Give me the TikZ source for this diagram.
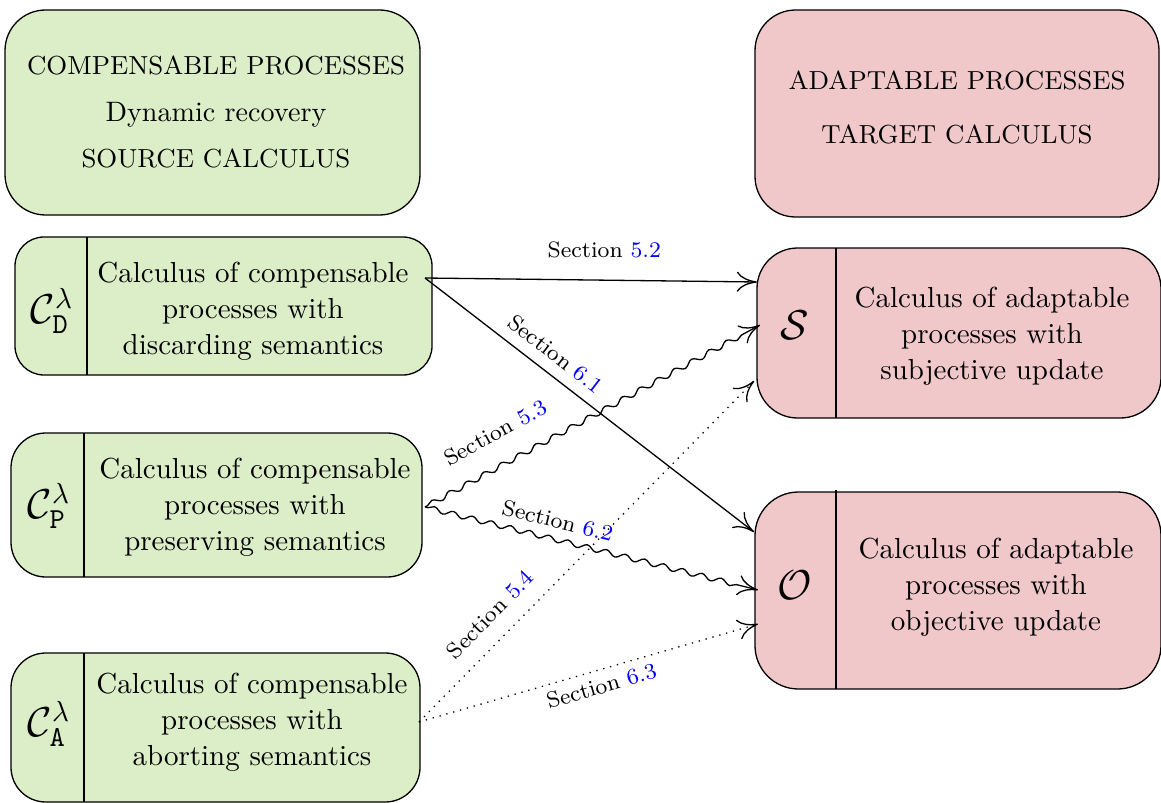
\documentclass[tikz,border=0pt]{standalone}
\usepackage{amsmath}
\usetikzlibrary{arrows.meta,decorations.pathmorphing}
\definecolor{srcgreen}{RGB}{220,238,200}
\definecolor{tgtpink}{RGB}{240,200,202}
\definecolor{secblue}{RGB}{0,0,255}
\newcommand{\secref}[1]{Section \textcolor{secblue}{#1}}

\begin{document}
\begin{tikzpicture}[x=0.345pt, y=-0.345pt,
  panel/.style={draw, line width=0.45pt, rectangle, inner sep=0pt},
  srcpanel/.style={panel, fill=srcgreen},
  tgtpanel/.style={panel, fill=tgtpink},
  headtxt/.style={align=center, inner sep=0pt, font=\fontsize{9}{16}\selectfont},
  bodytxt/.style={align=center, inner sep=0pt, font=\fontsize{10}{12.4}\selectfont},
  calname/.style={inner sep=0pt, font=\Large},
  sectxt/.style={font=\fontsize{7.7}{9}\selectfont, inner sep=2pt},
  link/.style={line width=0.45pt, -{To[length=7pt,width=7pt]}},
  wavy/.style={link, decorate, decoration={snake, amplitude=0.9pt, segment length=6.8pt, pre length=1pt, post length=6pt}},
  dotlink/.style={link, dotted},
]
\useasboundingbox (0,0) rectangle (1161,803);

% --- header panels ---
\node[srcpanel, rounded corners=14pt, minimum width=415*0.345pt, minimum height=205*0.345pt] (srchead) at (212.5,112.5) {};
\node[headtxt] (srcheadtxt) at (216,112) {COMPENSABLE PROCESSES\\{\fontsize{9.7}{16}\selectfont Dynamic recovery}\\SOURCE CALCULUS};

\node[tgtpanel, rounded corners=14pt, minimum width=404*0.345pt, minimum height=207*0.345pt] (tgthead) at (957,113.5) {};
\node[headtxt, font=\fontsize{9}{18.6}\selectfont] (tgtheadtxt) at (957,107) {ADAPTABLE PROCESSES\\TARGET CALCULUS};

% --- source calculi ---
\node[srcpanel, rounded corners=10pt, minimum width=417*0.345pt, minimum height=138*0.345pt] (D) at (223.5,306) {};
\draw (87,237) -- (87,375);
\node[calname] (Dname) at (52,311) {$\mathcal{C}^{\lambda}_{\mathtt{D}}$};
\node[bodytxt] (Dtxt) at (253,311) {Calculus of compensable\\processes with\\discarding semantics};

\node[srcpanel, rounded corners=12pt, minimum width=411*0.345pt, minimum height=144*0.345pt] (P) at (216.5,505) {};
\draw (84,433) -- (84,577);
\node[calname] (Pname) at (49,506) {$\mathcal{C}^{\lambda}_{\mathtt{P}}$};
\node[bodytxt] (Ptxt) at (255,507) {Calculus of compensable\\processes with\\preserving semantics};

\node[srcpanel, rounded corners=12pt, minimum width=409*0.345pt, minimum height=149*0.345pt] (A) at (215.5,727.5) {};
\draw (84,653) -- (84,802);
\node[calname] (Aname) at (49,724) {$\mathcal{C}^{\lambda}_{\mathtt{A}}$};
\node[bodytxt] (Atxt) at (252,722) {Calculus of compensable\\processes with\\aborting semantics};

% --- target calculi ---
\node[tgtpanel, rounded corners=14pt, minimum width=404*0.345pt, minimum height=170*0.345pt] (S) at (959,333) {};
\draw (836,248) -- (836,418);
\node[calname] (Sname) at (795,325) {$\mathcal{S}$};
\node[bodytxt] (Stxt) at (992,336) {Calculus of adaptable\\processes with\\subjective update};

\node[tgtpanel, rounded corners=15pt, minimum width=406*0.345pt, minimum height=197*0.345pt] (O) at (958,590.5) {};
\draw (836,490) -- (836,689);
\node[calname] (Oname) at (795,585) {$\mathcal{O}$};
\node[bodytxt] (Otxt) at (996,587) {Calculus of adaptable\\processes with\\objective update};

% --- connector ends ---
\coordinate (Dout) at (425,278);
\coordinate (Pout) at (425,507);
\coordinate (Aout) at (419,722);
\coordinate (SinD) at (757,282);
\coordinate (SinP) at (760,325);
\coordinate (SinA) at (754,381);
\coordinate (OinD) at (754,532);
\coordinate (OinP) at (758,590);
\coordinate (OinA) at (758,624);

% --- encodings ---
\draw[link] (Dout) -- node[sectxt, pos=0.54, above=5.5pt] {\secref{5.2}} (SinD);
\draw[link] (Dout) -- node[sectxt, pos=0.36, sloped, above=1.8pt] {\secref{6.1}} (OinD);
\draw[wavy] (Pout) -- (SinP);
\path (Pout) -- node[sectxt, pos=0.255, sloped, above=6pt] {\secref{5.3}} (SinP);
\draw[wavy] (Pout) -- (OinP);
\path (Pout) -- node[sectxt, pos=0.385, sloped, above=1.5pt] {\secref{6.2}} (OinP);
\draw[dotlink] (Aout) -- node[sectxt, pos=0.265, sloped, above=3.5pt] {\secref{5.4}} (SinA);
\draw[dotlink] (Aout) -- node[sectxt, pos=0.525, sloped, below=0.5pt] {\secref{6.3}} (OinA);
\end{tikzpicture}
\end{document}
